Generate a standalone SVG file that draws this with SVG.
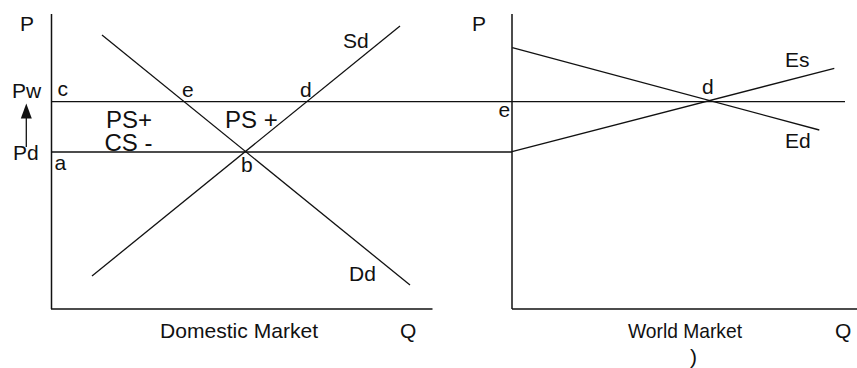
<svg xmlns="http://www.w3.org/2000/svg" width="857" height="368" viewBox="0 0 857 368">
<style>
line{stroke:#111;stroke-width:1.3;fill:none}
.ax{stroke-width:1.5}
text{font-family:"Liberation Sans",Arial,sans-serif;font-size:21px;fill:#111}
.big{font-size:24px}
</style>
<rect width="857" height="368" fill="#fff"/>
<g id="domestic">
<line class="ax" x1="51.5" y1="14" x2="51.5" y2="309"/>
<line class="ax" x1="51" y1="309" x2="432.5" y2="309"/>
<line x1="51" y1="152" x2="512" y2="152"/>
<line x1="102" y1="35" x2="410" y2="285"/>
<line x1="92" y1="276" x2="400" y2="26"/>
<line x1="26.3" y1="116" x2="26.3" y2="147"/>
<polygon points="26.3,103.5 20.8,118.5 31.8,118.5" fill="#111"/>
<text x="20" y="30.5">P</text>
<text x="12" y="97.5">Pw</text>
<text x="13" y="159.5">Pd</text>
<text x="57.5" y="96">c</text>
<text x="54.5" y="169.5">a</text>
<text x="182" y="96.7">e</text>
<text x="300" y="96.7">d</text>
<text x="241" y="171.7">b</text>
<text x="343" y="48.3">Sd</text>
<text x="349" y="281">Dd</text>
<text class="big" x="106" y="128.3">PS+</text>
<text class="big" x="104.5" y="151">CS -</text>
<text class="big" x="225" y="128.3">PS +</text>
<text x="160" y="337.5" font-size="22" textLength="158" lengthAdjust="spacingAndGlyphs">Domestic Market</text>
<text x="400" y="337.5">Q</text>
</g>
<g id="world">
<line class="ax" x1="512" y1="14" x2="512" y2="309"/>
<line class="ax" x1="512" y1="309" x2="857" y2="309"/>
<line x1="51" y1="101.7" x2="845" y2="101.7"/>
<line x1="512.3" y1="47.7" x2="819.3" y2="130"/>
<line x1="512" y1="151.7" x2="834.3" y2="68.3"/>
<text x="472" y="30.7">P</text>
<text x="498.5" y="116.7">e</text>
<text x="702" y="94">d</text>
<text x="785" y="67.3">Es</text>
<text x="785" y="148.3">Ed</text>
<text x="628" y="338" font-size="20" textLength="114" lengthAdjust="spacingAndGlyphs">World Market</text>
<text x="835" y="338">Q</text>
<text x="690" y="364" font-size="20">)</text>
</g>
</svg>
